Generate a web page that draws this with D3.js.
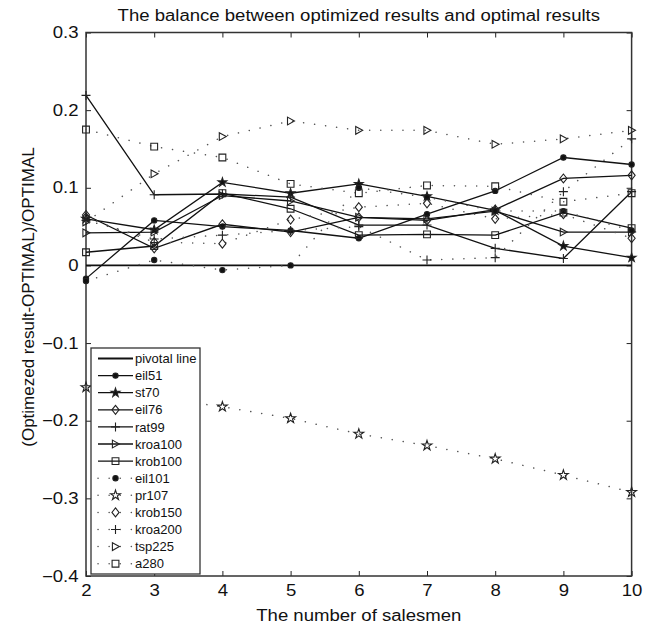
<!DOCTYPE html>
<html>
<head>
<meta charset="utf-8">
<script src="https://cdn.jsdelivr.net/npm/d3@7"></script>
<style>
  html, body { margin: 0; padding: 0; background: #fff; }
  svg { display: block; font-family: Arial, 'Liberation Sans', sans-serif; }
</style>
</head>
<body>
<svg id="chart" width="656" height="629"></svg>
<script>
// salesmen counts on the x axis
const salesmen = [2, 3, 4, 5, 6, 7, 8, 9, 10];
const yTicks = [-0.4, -0.3, -0.2, -0.1, 0, 0.1, 0.2, 0.3];

// (optimized - optimal) / optimal per instance
const eil51   = [-0.017, 0.058, 0.050, 0.045, 0.035, 0.066, 0.096, 0.139, 0.130];
const st70    = [0.060, 0.046, 0.107, 0.093, 0.105, 0.089, 0.071, 0.025, 0.010];
const eil76   = [0.065, 0.022, 0.053, 0.043, 0.062, 0.058, 0.072, 0.112, 0.116];
const rat99   = [0.219, 0.091, 0.092, 0.088, 0.052, 0.052, 0.022, 0.009, 0.095];
const kroa100 = [0.042, 0.043, 0.090, 0.083, 0.062, 0.060, 0.070, 0.043, 0.043];
const krob100 = [0.017, 0.025, 0.093, 0.073, 0.039, 0.040, 0.039, 0.068, 0.048];
const eil101  = [-0.020, 0.007, -0.006, 0.000, 0.100, 0.088, 0.070, 0.070, 0.045];
const pr107   = [-0.157, -0.170, -0.182, -0.197, -0.217, -0.232, -0.249, -0.270, -0.292];
const krob150 = [0.062, 0.030, 0.028, 0.059, 0.075, 0.080, 0.060, 0.066, 0.035];
const kroa200 = [0.058, 0.034, 0.039, 0.045, 0.050, 0.007, 0.010, 0.095, 0.163];
const tsp225  = [0.056, 0.118, 0.166, 0.186, 0.174, 0.174, 0.156, 0.163, 0.174];
const a280    = [0.175, 0.153, 0.139, 0.105, 0.093, 0.103, 0.102, 0.082, 0.093];
const pivot   = [0, 0, 0, 0, 0, 0, 0, 0, 0];

// custom matlab-ish marker shapes
const plusSym = { draw(ctx, size) { const r = Math.sqrt(size) / 2;
  ctx.moveTo(-r, 0); ctx.lineTo(r, 0); ctx.moveTo(0, -r); ctx.lineTo(0, r); } };
const diamondSym = { draw(ctx, size) { const r = Math.sqrt(size) / 2 * 1.15;
  ctx.moveTo(0, -r); ctx.lineTo(r * 0.8, 0); ctx.lineTo(0, r); ctx.lineTo(-r * 0.8, 0); ctx.closePath(); } };
const triSym = { draw(ctx, size) { const r = Math.sqrt(size) / 2;
  ctx.moveTo(-r * 0.8, -r); ctx.lineTo(r, 0); ctx.lineTo(-r * 0.8, r); ctx.closePath(); } };
const squareSym = { draw(ctx, size) { const r = Math.sqrt(size) / 2 * 0.85;
  ctx.rect(-r, -r, 2 * r, 2 * r); } };

const series = [
  { name: 'pivotal line', values: pivot,   dotted: false, shape: null },
  { name: 'eil51',        values: eil51,   dotted: false, shape: d3.symbolCircle, size: 22, filled: true },
  { name: 'st70',         values: st70,    dotted: false, shape: d3.symbolStar,   size: 24, filled: true },
  { name: 'eil76',        values: eil76,   dotted: false, shape: diamondSym, size: 60 },
  { name: 'rat99',        values: rat99,   dotted: false, shape: plusSym,    size: 81 },
  { name: 'kroa100',      values: kroa100, dotted: false, shape: triSym,     size: 60 },
  { name: 'krob100',      values: krob100, dotted: false, shape: squareSym,  size: 64 },
  { name: 'eil101',       values: eil101,  dotted: true,  shape: d3.symbolCircle, size: 22, filled: true },
  { name: 'pr107',        values: pr107,   dotted: true,  shape: d3.symbolStar,   size: 30 },
  { name: 'krob150',      values: krob150, dotted: true,  shape: diamondSym, size: 60 },
  { name: 'kroa200',      values: kroa200, dotted: true,  shape: plusSym,    size: 81 },
  { name: 'tsp225',       values: tsp225,  dotted: true,  shape: triSym,     size: 60 },
  { name: 'a280',         values: a280,    dotted: true,  shape: squareSym,  size: 64 }
];

const svg = d3.select('#chart');
const m = { left: 86, right: 631.6, top: 32.5, bottom: 576 };
const stretch = 1.16; // the reference text is a bit wide

const x = d3.scaleLinear().domain([2, 10]).range([m.left, m.right]);
const y = d3.scaleLinear().domain([-0.4, 0.3]).range([m.bottom, m.top]);

const fmt = d => d === 0 ? '0' : d3.format('.1f')(d).replace('-', '\u2212');

// axes with inward ticks, matlab box style
svg.append('g').attr('transform', `translate(0,${m.bottom})`)
  .call(d3.axisBottom(x).tickValues(salesmen).tickSize(-5).tickPadding(9).tickFormat(d3.format('d')))
  .call(g => g.select('.domain').remove())
  .call(g => g.selectAll('.tick text').attr('transform', `scale(${stretch},1)`));
svg.append('g').attr('transform', `translate(0,${m.top})`)
  .call(d3.axisTop(x).tickValues(salesmen).tickSize(-5).tickFormat(''))
  .call(g => g.select('.domain').remove());
svg.append('g').attr('transform', `translate(${m.left},0)`)
  .call(d3.axisLeft(y).tickValues(yTicks).tickSize(-5).tickPadding(9).tickFormat(fmt))
  .call(g => g.select('.domain').remove())
  .call(g => g.selectAll('.tick text').attr('x', -7.5 / stretch).attr('transform', `scale(${stretch},1)`));
svg.append('g').attr('transform', `translate(${m.right},0)`)
  .call(d3.axisRight(y).tickValues(yTicks).tickSize(-5).tickFormat(''))
  .call(g => g.select('.domain').remove());

svg.selectAll('.tick line').attr('stroke', '#222').attr('stroke-width', 1);
svg.selectAll('.tick text').attr('font-size', 16).attr('fill', '#111')
  .attr('font-family', 'Arial, Liberation Sans, sans-serif');

svg.append('rect')
  .attr('x', m.left).attr('y', m.top)
  .attr('width', m.right - m.left).attr('height', m.bottom - m.top)
  .attr('fill', 'none').attr('stroke', '#333').attr('stroke-width', 1.5);

const line = d3.line().x((d, i) => x(salesmen[i])).y(d => y(d));

function styleLine(sel, s) {
  if (s.dotted) {
    sel.attr('stroke', '#555').attr('stroke-width', 1.5)
      .attr('stroke-linecap', 'round').attr('stroke-dasharray', '0.1,11');
  } else {
    sel.attr('stroke', '#111').attr('stroke-width', s.shape ? 1.3 : 1.8);
  }
}

function styleMarker(sel, s) {
  sel.attr('d', d3.symbol().type(s.shape).size(s.size))
    .attr('fill', s.filled ? '#111' : 'none')
    .attr('stroke', '#222').attr('stroke-width', 1.1);
}

series.forEach(s => {
  const g = svg.append('g');
  g.append('path').datum(s.values).attr('d', line).attr('fill', 'none').call(styleLine, s);
  if (s.shape) {
    g.selectAll('path.mk').data(s.values).enter().append('path')
      .attr('class', 'mk')
      .attr('transform', (d, i) => `translate(${x(salesmen[i])},${y(d)})`)
      .call(styleMarker, s);
  }
});

// legend
const lg = svg.append('g');
const lx = 91, ly = 348, lw = 109, lh = 226, row = 17.1;
lg.append('rect').attr('x', lx).attr('y', ly).attr('width', lw).attr('height', lh)
  .attr('fill', '#fff').attr('stroke', '#333').attr('stroke-width', 1.3);

series.forEach((s, i) => {
  const cy = ly + 10.5 + i * row;
  const item = lg.append('g');
  item.append('path').datum([cy, cy])
    .attr('d', d3.line().x((d, j) => j === 0 ? 98 : 133).y(d => d))
    .attr('fill', 'none').call(styleLine, s);
  if (s.shape) {
    item.append('path').attr('transform', `translate(115.5,${cy})`).call(styleMarker, s);
  }
  item.append('text').attr('x', 135).attr('y', cy + 4.6)
    .attr('font-size', 13).attr('fill', '#111').text(s.name);
});

// titles
const cx = (m.left + m.right) / 2;
svg.append('text').attr('transform', `translate(${cx},21) scale(${stretch},1)`)
  .attr('text-anchor', 'middle').attr('font-size', 16).attr('fill', '#111')
  .text('The balance between optimized results and optimal results');

svg.append('text').attr('transform', `translate(${cx},621) scale(${stretch},1)`)
  .attr('text-anchor', 'middle').attr('font-size', 16).attr('fill', '#111')
  .text('The number of salesmen');

svg.append('text')
  .attr('transform', `translate(34,297) rotate(-90)`)
  .attr('text-anchor', 'middle').attr('font-size', 17).attr('fill', '#111')
  .text('(Optimezed result-OPTIMAL)/OPTIMAL');
</script>
</body>
</html>
